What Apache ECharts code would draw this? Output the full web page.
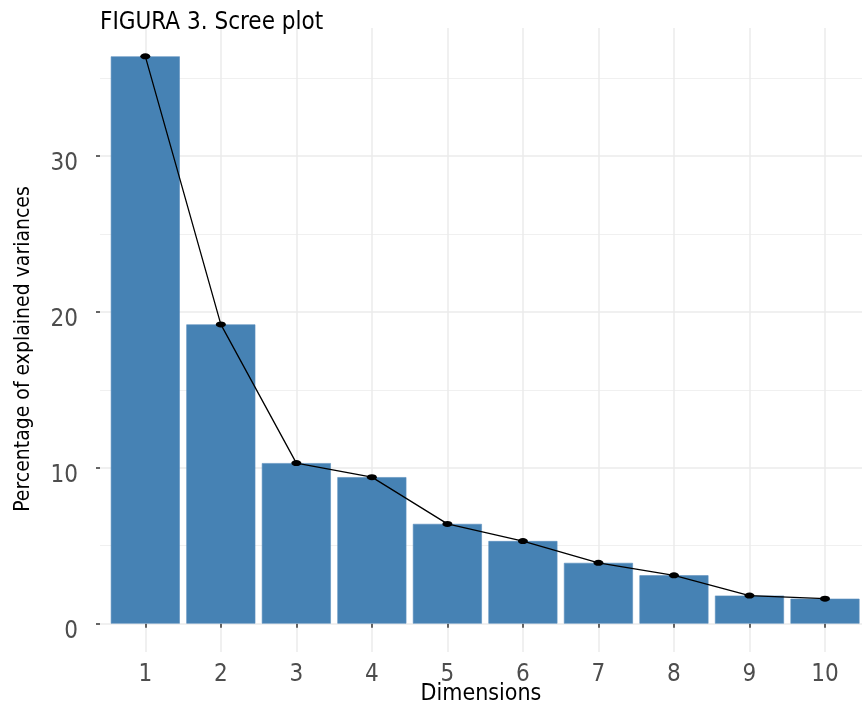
<!DOCTYPE html>
<html>
<head>
<meta charset="utf-8">
<script src="https://cdn.jsdelivr.net/npm/echarts@6/dist/echarts.min.js"></script>
<style>
html,body{margin:0;padding:0;background:#fff;}
#chart{width:862px;height:709px;}
</style>
</head>
<body>
<div id="chart"></div>
<script>
const dimensions = [1, 2, 3, 4, 5, 6, 7, 8, 9, 10];
const variances = [36.4, 19.2, 10.3, 9.4, 6.4, 5.3, 3.9, 3.1, 1.8, 1.6];
const yTicks = [0, 10, 20, 30];
const yMinorTicks = [5, 15, 25, 35];
const titleText = 'FIGURA 3. Scree plot';
const xTitle = 'Dimensions';
const yTitle = 'Percentage of explained variances';

const FONT = "'Liberation Sans Narrow', 'Arial Narrow', 'DejaVu Sans Condensed', sans-serif";
const pts = dimensions.map((d, i) => [d, variances[i]]);
const maxV = Math.max(...variances);
const yMin = -0.05 * maxV, yMax = maxV * 1.05;

const chart = echarts.init(document.getElementById('chart'), null, {renderer: 'canvas'});
chart.setOption({
  animation: false,
  backgroundColor: '#ffffff',
  title: {
    text: titleText, left: 100, top: 11, padding: 0,
    textStyle: {fontFamily: FONT, fontSize: 24, fontWeight: 'normal', color: '#000'}
  },
  grid: {left: 100, right: 0, top: 28, bottom: 57, containLabel: false, outerBoundsMode: 'none'},
  xAxis: {
    type: 'value', min: 0.4, max: 10.49,
    name: xTitle, nameLocation: 'middle', nameGap: 31, nameMoveOverlap: false,
    nameTextStyle: {fontFamily: FONT, fontSize: 23, color: '#000'},
    axisLine: {show: false},
    axisTick: {show: true, customValues: dimensions, length: 4, lineStyle: {color: '#333', width: 1.5}},
    axisLabel: {customValues: dimensions, margin: 11, fontFamily: FONT, fontSize: 24, color: '#4D4D4D'},
    splitLine: {show: true, lineStyle: {color: '#EBEBEB', width: 1.5}}
  },
  yAxis: [{
    type: 'value', min: yMin, max: yMax,
    name: yTitle, nameLocation: 'middle', nameGap: 66, nameMoveOverlap: false,
    nameTextStyle: {fontFamily: FONT, fontSize: 21, color: '#000', padding: [0, 18, 0, 0]},
    axisLine: {show: false},
    axisTick: {show: true, customValues: yTicks, length: 4, lineStyle: {color: '#333', width: 1.5}},
    axisLabel: {customValues: yTicks, margin: 22, fontFamily: FONT, fontSize: 24, color: '#4D4D4D', verticalAlign: 'top', padding: [-4, 0, 0, 0]},
    splitLine: {show: true, lineStyle: {color: '#EBEBEB', width: 1.5}}
  }, {
    type: 'value', min: yMin, max: yMax, position: 'left',
    axisLine: {show: false},
    axisTick: {show: false, customValues: yMinorTicks},
    axisLabel: {show: false, customValues: yMinorTicks},
    splitLine: {show: true, lineStyle: {color: '#F0F0F0', width: 1}}
  }],
  series: [{
    type: 'bar', data: pts, barWidth: 69, yAxisIndex: 0,
    itemStyle: {color: '#4682B4', borderColor: '#5B8FBE', borderWidth: 0.6},
    z: 2
  }, {
    type: 'line', data: pts, yAxisIndex: 0,
    symbol: 'circle', symbolSize: [10, 6],
    lineStyle: {color: '#000', width: 1.3},
    itemStyle: {color: '#000'},
    z: 3
  }]
});
</script>
</body>
</html>
